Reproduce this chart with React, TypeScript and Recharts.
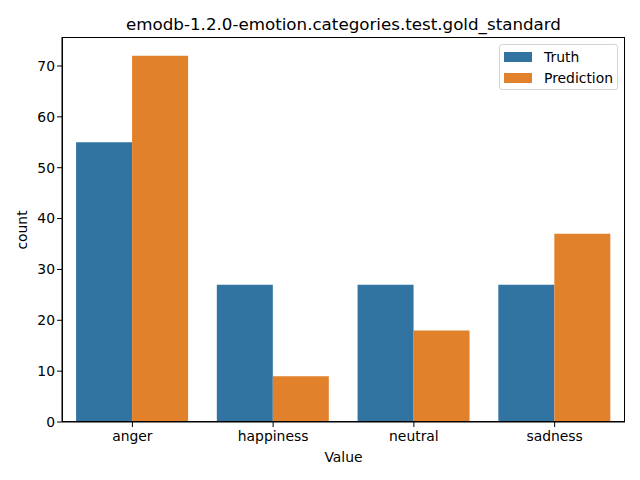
import React from "react";
import { Bar, BarChart, XAxis, YAxis } from "recharts";

const categories = ["anger", "happiness", "neutral", "sadness"];
const truth = [55, 27, 27, 27];
const prediction = [72, 9, 18, 37];
const yTicks = [0, 10, 20, 30, 40, 50, 60, 70];

const TRUTH_COLOR = "#3274a1";
const PRED_COLOR = "#e1812c";
const FONT = "'DejaVu Sans', sans-serif";

const data = categories.map((c, i) => ({
  name: c,
  truth: truth[i],
  prediction: prediction[i],
}));

// plot box in page pixels
const PLOT = { left: 62, top: 37, width: 563, height: 385 };

function LegendBox() {
  const items = [
    { label: "Truth", color: TRUTH_COLOR },
    { label: "Prediction", color: PRED_COLOR },
  ];
  return (
    <div
      style={{
        position: "absolute",
        left: 499,
        top: 44,
        border: "1px solid #d5d5d5",
        borderRadius: 3,
        background: "rgba(255,255,255,0.8)",
        width: 119,
        height: 46,
        boxSizing: "border-box",
        padding: "1px 0 0 4px",
        fontFamily: FONT,
        fontSize: 13.9,
        color: "#000",
      }}
    >
      {items.map((it) => (
        <div key={it.label} style={{ display: "flex", alignItems: "center", height: 21 }}>
          <span style={{ width: 28, height: 10, background: it.color, display: "inline-block" }} />
          <span style={{ marginLeft: 12 }}>{it.label}</span>
        </div>
      ))}
    </div>
  );
}

export default function App() {
  return (
    <div style={{ position: "absolute", left: 0, top: 0, width: 640, height: 480, background: "#fff" }}>
      <div
        style={{
          position: "absolute",
          top: 14,
          left: PLOT.left,
          width: PLOT.width,
          textAlign: "center",
          fontFamily: FONT,
          fontSize: 16.7,
          color: "#000",
        }}
      >
        emodb-1.2.0-emotion.categories.test.gold_standard
      </div>
      <BarChart
        width={640}
        height={480}
        data={data}
        margin={{ top: 37, right: 15, left: 22, bottom: 28 }}
        barCategoryGap="10%"
        barGap={0}
      >
        <XAxis
          dataKey="name"
          height={30}
          tickSize={5}
          tickMargin={4}
          tickLine={{ stroke: "#000" }}
          axisLine={{ stroke: "#000" }}
          tick={{ fill: "#000", fontFamily: FONT, fontSize: 13.9 }}
          label={{ value: "Value", position: "insideBottom", offset: -10, fill: "#000", fontFamily: FONT, fontSize: 13.9 }}
        />
        <YAxis
          width={40}
          domain={[0, 75.7]}
          ticks={yTicks}
          tickSize={5}
          tickLine={{ stroke: "#000" }}
          axisLine={{ stroke: "#000" }}
          tick={{ fill: "#000", fontFamily: FONT, fontSize: 13.9 }}
        />
        <Bar dataKey="truth" name="Truth" fill={TRUTH_COLOR} isAnimationActive={false} />
        <Bar dataKey="prediction" name="Prediction" fill={PRED_COLOR} isAnimationActive={false} />
      </BarChart>
      {/* full box spines like matplotlib */}
      <div
        style={{
          position: "absolute",
          left: PLOT.left,
          top: PLOT.top,
          width: PLOT.width,
          height: PLOT.height,
          border: "1px solid #000",
          boxSizing: "border-box",
          pointerEvents: "none",
        }}
      />
      <div
        style={{
          position: "absolute",
          left: 22,
          top: PLOT.top + PLOT.height / 2,
          transform: "translate(-50%, -50%) rotate(-90deg)",
          fontFamily: FONT,
          fontSize: 13.9,
          color: "#000",
          whiteSpace: "nowrap",
        }}
      >
        count
      </div>
      <LegendBox />
    </div>
  );
}
